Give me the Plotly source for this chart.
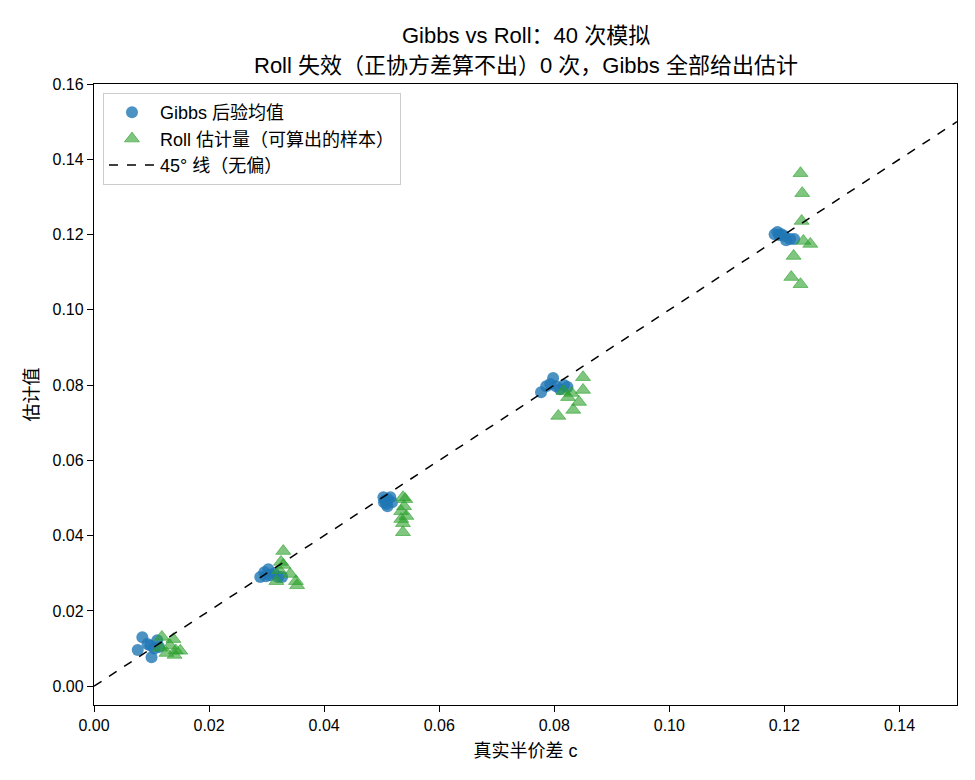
import plotly.graph_objects as go

# Gibbs posterior means
gibbs_x = [0.0076, 0.0084, 0.0093, 0.0100, 0.0105, 0.0110, 0.0113, 0.0098,
           0.0289, 0.0296, 0.0303, 0.0306, 0.0313, 0.0320, 0.0299, 0.0327,
           0.0503, 0.0508, 0.0511, 0.0518, 0.0506, 0.0515, 0.0510, 0.0504,
           0.0777, 0.0786, 0.0798, 0.0803, 0.0810, 0.0817, 0.0823, 0.0793,
           0.1183, 0.1188, 0.1195, 0.1200, 0.1203, 0.1210, 0.1217, 0.1191]
gibbs_y = [0.0096, 0.0130, 0.0112, 0.0077, 0.0100, 0.0122, 0.0104, 0.0108,
           0.0290, 0.0303, 0.0311, 0.0295, 0.0300, 0.0290, 0.0292, 0.0290,
           0.0502, 0.0484, 0.0497, 0.0489, 0.0494, 0.0502, 0.0478, 0.0489,
           0.0781, 0.0797, 0.0819, 0.0797, 0.0789, 0.0800, 0.0795, 0.0803,
           0.1201, 0.1207, 0.1201, 0.1196, 0.1185, 0.1188, 0.1188, 0.1199]

# Roll estimates
roll_x = [0.0118, 0.0115, 0.0126, 0.0138, 0.0140, 0.0142, 0.0150, 0.0132,
          0.0317, 0.0329, 0.0325, 0.0322, 0.0341, 0.0353, 0.0351, 0.0329,
          0.0537, 0.0541, 0.0534, 0.0543, 0.0534, 0.0537, 0.0537, 0.0539,
          0.0807, 0.0816, 0.0824, 0.0833, 0.0843, 0.0850, 0.0850, 0.0830,
          0.1228, 0.1231, 0.1230, 0.1233, 0.1245, 0.1216, 0.1212, 0.1228]
roll_y = [0.0131, 0.0102, 0.0088, 0.0125, 0.0083, 0.0095, 0.0094, 0.0108,
          0.0279, 0.0359, 0.0330, 0.0308, 0.0298, 0.0268, 0.0279, 0.0322,
          0.0502, 0.0497, 0.0465, 0.0452, 0.0444, 0.0433, 0.0409, 0.0478,
          0.0718, 0.0784, 0.0768, 0.0734, 0.0755, 0.0787, 0.0821, 0.0779,
          0.1363, 0.1310, 0.1236, 0.1183, 0.1175, 0.1143, 0.1087, 0.1068]

line_x = [0.0, 0.15]
line_y = [0.0, 0.15]

x_ticks = [0.00, 0.02, 0.04, 0.06, 0.08, 0.10, 0.12, 0.14]
y_ticks = [0.00, 0.02, 0.04, 0.06, 0.08, 0.10, 0.12, 0.14, 0.16]

title_line1 = "Gibbs vs Roll：40 次模拟"
title_line2 = "Roll 失效（正协方差算不出）0 次，Gibbs 全部给出估计"

FONT = "Liberation Sans, Noto Sans CJK SC, sans-serif"

fig = go.Figure()
fig.add_trace(go.Scatter(
    x=gibbs_x, y=gibbs_y, mode="markers", name="Gibbs 后验均值",
    marker=dict(symbol="circle", size=12, color="rgba(31,119,180,0.8)",
                line=dict(width=0)),
))
fig.add_trace(go.Scatter(
    x=roll_x, y=roll_y, mode="markers", name="Roll 估计量（可算出的样本）",
    marker=dict(symbol="triangle-up", size=13, color="rgba(44,160,44,0.6)",
                line=dict(width=1, color="rgba(44,160,44,0.6)")),
))
fig.add_trace(go.Scatter(
    x=line_x, y=line_y, mode="lines", name="45° 线（无偏）",
    line=dict(color="black", width=1.5, dash="dash"),
))

axis_common = dict(
    showgrid=False, zeroline=False, showline=True, linecolor="black",
    linewidth=1.3, mirror=True, ticks="outside", ticklen=6, tickcolor="black",
    tickwidth=1.3,
    tickfont=dict(size=16, color="black", family=FONT),
)

fig.update_layout(
    width=975, height=780,
    margin=dict(l=94, r=18, t=84, b=75),
    paper_bgcolor="white", plot_bgcolor="white",
    font=dict(family=FONT, color="black"),
    xaxis=dict(range=[0, 0.15], tickvals=x_ticks,
               ticktext=[f"{v:.2f}" for v in x_ticks],
               title=dict(text="真实半价差 c", font=dict(size=18), standoff=11),
               **axis_common),
    yaxis=dict(range=[-0.005, 0.16], tickvals=y_ticks,
               ticktext=[f"{v:.2f}" for v in y_ticks],
               title=dict(text="估计值", font=dict(size=18), standoff=9),
               **axis_common),
    legend=dict(
        x=0.0104, y=0.9855, xanchor="left", yanchor="top",
        bordercolor="#cccccc", borderwidth=1, bgcolor="rgba(255,255,255,0.8)",
        font=dict(size=18, family=FONT, color="black"),
        tracegroupgap=0, itemwidth=46,
    ),
    showlegend=True,
    annotations=[
        dict(text=title_line1, xref="paper", yref="paper", x=0.5, y=1.0773,
             xanchor="center", yanchor="middle", showarrow=False,
             font=dict(size=22, family=FONT, color="black")),
        dict(text=title_line2, xref="paper", yref="paper", x=0.5, y=1.029,
             xanchor="center", yanchor="middle", showarrow=False,
             font=dict(size=22, family=FONT, color="black")),
    ],
)

fig.write_html("out.html")
